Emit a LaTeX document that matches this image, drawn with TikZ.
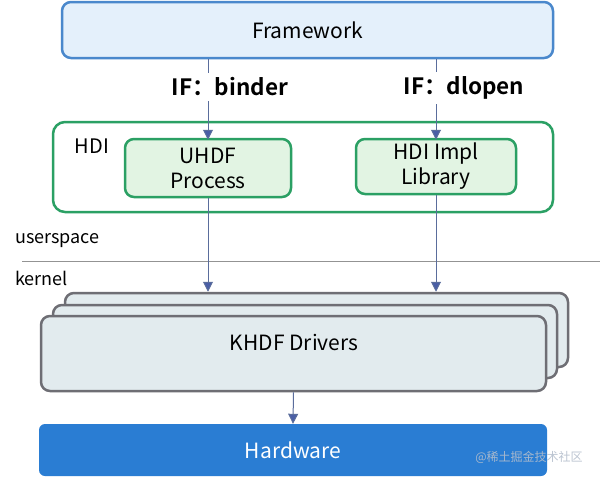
\documentclass[tikz,border=0pt]{standalone}
\usepackage{fontspec}
\setmainfont{Noto Sans CJK SC}[BoldFont={Noto Sans CJK SC Bold}]
\usepackage{tikz}
\usetikzlibrary{arrows.meta}
\usetikzlibrary{positioning}

\definecolor{fwfill}{HTML}{E4F0FB}
\definecolor{fwline}{HTML}{4A88CC}
\definecolor{hdigreen}{HTML}{2BA064}
\definecolor{procfill}{HTML}{E2F4E3}
\definecolor{drvfill}{HTML}{E2EBEE}
\definecolor{drvline}{HTML}{6E6E74}
\definecolor{hwblue}{HTML}{2A7DD3}
\definecolor{flowline}{HTML}{5A6D9C}
\definecolor{tipblue}{HTML}{4A5EA6}
\definecolor{markgray}{HTML}{B4BECC}

\begin{document}
\begin{tikzpicture}[x=1pt, y=-1pt,
    box/.style={draw, rounded corners=9pt, line width=2.5pt, inner sep=0pt, align=center, font=\fontsize{21}{25}\selectfont},
    fwbox/.style={box, draw=fwline, fill=fwfill},
    hdibox/.style={box, draw=hdigreen, fill=white, rounded corners=12pt},
    greenbox/.style={box, draw=hdigreen, fill=procfill},
    drvbox/.style={box, draw=drvline, fill=drvfill},
    hwbox/.style={fill=hwblue, rounded corners=6pt, text=white, font=\fontsize{21}{25}\selectfont},
    iflabel/.style={fill=white, font=\bfseries\fontsize{22.5}{26}\selectfont, inner xsep=1pt, inner ysep=5pt},
    flow/.style={draw=flowline, line width=1pt, -{Triangle[length=10pt, width=10pt, fill=tipblue]}},
    sidetext/.style={anchor=west, inner sep=0pt, font=\fontsize{18}{21}\selectfont}]
    \useasboundingbox[fill=white] (0,0) rectangle (600,479);

    \node[fwbox, minimum width=491pt, minimum height=56pt] (fw) at (307.5,30) {Framework};

    \node[hdibox, minimum width=500pt, minimum height=90pt] (hdi) at (303,167) {};
    \node[font=\fontsize{20}{24}\selectfont] (hdilabel) at (92,146) {HDI};
    \node[greenbox, minimum width=166pt, minimum height=58pt] (uhdf) at (208,168) {UHDF\\Process};
    \node[greenbox, minimum width=160pt, minimum height=55pt] (impl) at (436,166.5) {HDI Impl\\Library};

    \node[sidetext] (user) at (15,241) {userspace};
    \node[sidetext] (kern) at (15,278) {kernel};
    \draw[draw=gray!85, line width=1.5pt] (22,261.5) -- (600,261.5);

    \node[drvbox, minimum width=503pt, minimum height=74pt] (drvback) at (316.5,330) {};
    \node[drvbox, minimum width=504pt, minimum height=73pt] (drvmid) at (305,341.5) {};
    \node[drvbox, minimum width=505pt, minimum height=75pt] (drv) at (293.5,353.5) {};
    \node[font=\fontsize{21}{25}\selectfont] (drvtext) at (294,342) {KHDF Drivers};

    \node[hwbox, minimum width=508pt, minimum height=52pt] (hw) at (293,450) {Hardware};
    \node[text=markgray, opacity=0.9, font=\fontsize{12}{14}\selectfont] (mark) at (529,457) {@稀土掘金技术社区};

    \draw[flow] (fw.south -| uhdf.north) -- ([yshift=-2pt]uhdf.north);
    \draw[flow] (fw.south -| impl.north) -- ([yshift=-2pt]impl.north);
    \draw[flow] (uhdf.south) -- (uhdf.south |- drvback.north);
    \draw[flow] (impl.south) -- (impl.south |- drvback.north);
    \draw[flow] (drv.south) -- (hw.north);

    \node[iflabel] (ifbinder) at (230,87) {IF：binder};
    \node[iflabel] (ifdlopen) at (464,88) {IF：dlopen};
\end{tikzpicture}
\end{document}
